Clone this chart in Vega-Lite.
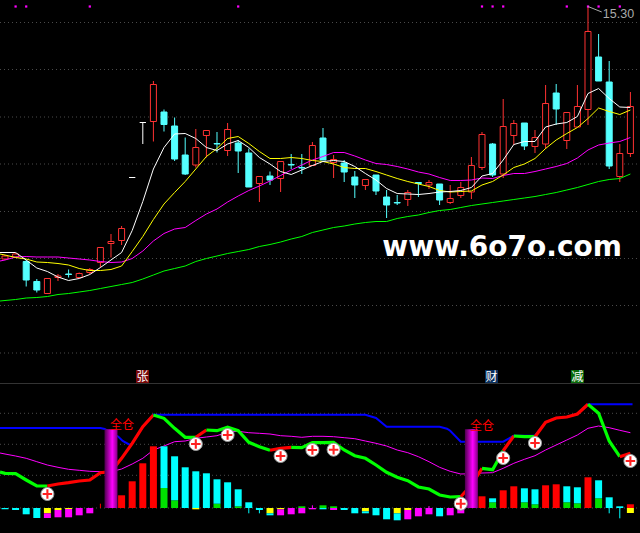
{
"$schema":"https://vega.github.io/schema/vega-lite/v6.json",
"background":"black","padding":0,"spacing":0,
"config":{"view":{"stroke":null},"concat":{"spacing":0}},
"datasets":{
"candles":[
{"i":0,"t":10.30,"b":10.24,"h":10.32,"l":10.22,"d":"up"},
{"i":1,"t":10.34,"b":10.28,"h":10.36,"l":10.26,"d":"up"},
{"i":2,"t":10.19,"b":9.82,"h":10.22,"l":9.69,"d":"down"},
{"i":3,"t":9.79,"b":9.62,"h":9.84,"l":9.57,"d":"down"},
{"i":4,"t":9.85,"b":9.55,"h":9.85,"l":9.55,"d":"up"},
{"i":5,"t":9.90,"b":9.87,"h":9.94,"l":9.80,"d":"up"},
{"i":6,"t":9.94,"b":9.93,"h":10.03,"l":9.87,"d":"down"},
{"i":7,"t":9.95,"b":9.87,"h":9.97,"l":9.86,"d":"up"},
{"i":8,"t":10.03,"b":9.97,"h":10.06,"l":9.94,"d":"up"},
{"i":9,"t":10.47,"b":10.17,"h":10.47,"l":10.07,"d":"up"},
{"i":10,"t":10.59,"b":10.55,"h":10.74,"l":10.27,"d":"up"},
{"i":11,"t":10.85,"b":10.61,"h":10.90,"l":10.52,"d":"up"},
{"i":12,"t":11.87,"b":11.87,"h":11.87,"l":11.87,"d":"flat"},
{"i":13,"t":12.97,"b":12.97,"h":12.97,"l":12.54,"d":"flat"},
{"i":14,"t":13.73,"b":12.99,"h":13.80,"l":12.59,"d":"up"},
{"i":15,"t":13.18,"b":12.93,"h":13.23,"l":12.79,"d":"down"},
{"i":16,"t":12.90,"b":12.24,"h":13.07,"l":12.20,"d":"down"},
{"i":17,"t":12.32,"b":11.94,"h":12.67,"l":11.92,"d":"down"},
{"i":18,"t":12.47,"b":12.12,"h":12.84,"l":12.07,"d":"up"},
{"i":19,"t":12.81,"b":12.71,"h":12.81,"l":12.27,"d":"up"},
{"i":20,"t":12.55,"b":12.54,"h":12.78,"l":12.37,"d":"down"},
{"i":21,"t":12.83,"b":12.41,"h":12.96,"l":12.30,"d":"up"},
{"i":22,"t":12.56,"b":12.40,"h":12.62,"l":11.96,"d":"down"},
{"i":23,"t":12.36,"b":11.68,"h":12.45,"l":11.68,"d":"down"},
{"i":24,"t":11.89,"b":11.75,"h":11.89,"l":11.38,"d":"up"},
{"i":25,"t":11.90,"b":11.82,"h":11.99,"l":11.72,"d":"down"},
{"i":26,"t":12.19,"b":11.85,"h":12.19,"l":11.58,"d":"up"},
{"i":27,"t":12.13,"b":12.12,"h":12.34,"l":12.04,"d":"down"},
{"i":28,"t":12.07,"b":12.06,"h":12.34,"l":11.94,"d":"down"},
{"i":29,"t":12.51,"b":12.11,"h":12.58,"l":12.10,"d":"up"},
{"i":30,"t":12.66,"b":12.22,"h":12.86,"l":12.22,"d":"down"},
{"i":31,"t":12.23,"b":12.17,"h":12.32,"l":11.86,"d":"up"},
{"i":32,"t":12.16,"b":11.98,"h":12.22,"l":11.78,"d":"down"},
{"i":33,"t":11.88,"b":11.72,"h":12.00,"l":11.46,"d":"down"},
{"i":34,"t":11.83,"b":11.71,"h":11.83,"l":11.62,"d":"up"},
{"i":35,"t":11.92,"b":11.60,"h":11.92,"l":11.52,"d":"down"},
{"i":36,"t":11.48,"b":11.32,"h":11.62,"l":11.06,"d":"down"},
{"i":37,"t":11.37,"b":11.36,"h":11.52,"l":11.32,"d":"down"},
{"i":38,"t":11.57,"b":11.43,"h":11.62,"l":11.30,"d":"up"},
{"i":39,"t":11.77,"b":11.75,"h":11.77,"l":11.48,"d":"down"},
{"i":40,"t":11.77,"b":11.72,"h":11.82,"l":11.64,"d":"up"},
{"i":41,"t":11.74,"b":11.42,"h":11.74,"l":11.32,"d":"down"},
{"i":42,"t":11.45,"b":11.37,"h":11.72,"l":11.34,"d":"up"},
{"i":43,"t":11.67,"b":11.51,"h":11.78,"l":11.46,"d":"up"},
{"i":44,"t":12.11,"b":11.58,"h":12.28,"l":11.44,"d":"up"},
{"i":45,"t":12.73,"b":12.07,"h":12.78,"l":12.02,"d":"up"},
{"i":46,"t":12.54,"b":11.92,"h":12.56,"l":11.88,"d":"down"},
{"i":47,"t":12.89,"b":11.94,"h":13.44,"l":11.86,"d":"up"},
{"i":48,"t":12.95,"b":12.71,"h":13.02,"l":12.52,"d":"up"},
{"i":49,"t":12.96,"b":12.50,"h":12.96,"l":12.42,"d":"down"},
{"i":50,"t":12.67,"b":12.49,"h":12.82,"l":12.36,"d":"up"},
{"i":51,"t":13.35,"b":12.54,"h":13.72,"l":12.44,"d":"up"},
{"i":52,"t":13.56,"b":13.24,"h":13.74,"l":12.92,"d":"down"},
{"i":53,"t":13.17,"b":12.61,"h":13.17,"l":12.44,"d":"up"},
{"i":54,"t":13.29,"b":12.88,"h":13.72,"l":12.88,"d":"up"},
{"i":55,"t":14.79,"b":13.23,"h":15.30,"l":12.92,"d":"up"},
{"i":56,"t":14.28,"b":13.80,"h":14.74,"l":13.80,"d":"down"},
{"i":57,"t":13.78,"b":12.10,"h":14.20,"l":12.04,"d":"down"},
{"i":58,"t":12.35,"b":11.89,"h":12.54,"l":11.78,"d":"up"},
{"i":59,"t":13.29,"b":12.35,"h":13.58,"l":12.28,"d":"up"}
],
"mas":[
{"i":-0.47,"w":10.37,"y":10.34,"m":10.20,"g":9.40},
{"i":0,"w":10.37,"y":10.32,"m":10.22,"g":9.41},
{"i":1,"w":10.37,"y":10.27,"m":10.28,"g":9.43},
{"i":2,"w":10.22,"y":10.24,"m":10.29,"g":9.46},
{"i":3,"w":10.06,"y":10.18,"m":10.28,"g":9.47},
{"i":4,"w":9.99,"y":10.17,"m":10.28,"g":9.49},
{"i":5,"w":9.88,"y":10.15,"m":10.28,"g":9.53},
{"i":6,"w":9.81,"y":10.12,"m":10.26,"g":9.55},
{"i":7,"w":9.85,"y":10.05,"m":10.24,"g":9.58},
{"i":8,"w":9.93,"y":10.01,"m":10.22,"g":9.61},
{"i":9,"w":10.07,"y":10.01,"m":10.19,"g":9.65},
{"i":10,"w":10.22,"y":10.03,"m":10.17,"g":9.69},
{"i":11,"w":10.37,"y":10.10,"m":10.18,"g":9.73},
{"i":12,"w":10.81,"y":10.39,"m":10.25,"g":9.77},
{"i":13,"w":11.39,"y":10.69,"m":10.40,"g":9.84},
{"i":14,"w":12.04,"y":11.03,"m":10.60,"g":9.92},
{"i":15,"w":12.47,"y":11.34,"m":10.75,"g":10.00},
{"i":16,"w":12.74,"y":11.57,"m":10.84,"g":10.05},
{"i":17,"w":12.75,"y":11.79,"m":10.87,"g":10.10},
{"i":18,"w":12.65,"y":12.04,"m":11.01,"g":10.19},
{"i":19,"w":12.47,"y":12.29,"m":11.14,"g":10.25},
{"i":20,"w":12.41,"y":12.45,"m":11.24,"g":10.30},
{"i":21,"w":12.54,"y":12.65,"m":11.38,"g":10.35},
{"i":22,"w":12.61,"y":12.69,"m":11.50,"g":10.39},
{"i":23,"w":12.47,"y":12.55,"m":11.61,"g":10.43},
{"i":24,"w":12.27,"y":12.39,"m":11.70,"g":10.49},
{"i":25,"w":12.14,"y":12.25,"m":11.80,"g":10.53},
{"i":26,"w":11.99,"y":12.25,"m":11.91,"g":10.58},
{"i":27,"w":11.93,"y":12.27,"m":12.02,"g":10.64},
{"i":28,"w":12.02,"y":12.25,"m":12.12,"g":10.69},
{"i":29,"w":12.11,"y":12.21,"m":12.22,"g":10.77},
{"i":30,"w":12.19,"y":12.19,"m":12.29,"g":10.82},
{"i":31,"w":12.21,"y":12.14,"m":12.37,"g":10.87},
{"i":32,"w":12.19,"y":12.07,"m":12.37,"g":10.90},
{"i":33,"w":12.09,"y":12.05,"m":12.30,"g":10.94},
{"i":34,"w":11.95,"y":12.05,"m":12.22,"g":10.97},
{"i":35,"w":11.82,"y":11.99,"m":12.15,"g":10.99},
{"i":36,"w":11.65,"y":11.92,"m":12.13,"g":10.99},
{"i":37,"w":11.55,"y":11.85,"m":12.09,"g":11.05},
{"i":38,"w":11.54,"y":11.79,"m":12.04,"g":11.09},
{"i":39,"w":11.53,"y":11.74,"m":11.98,"g":11.12},
{"i":40,"w":11.55,"y":11.69,"m":11.94,"g":11.17},
{"i":41,"w":11.58,"y":11.61,"m":11.87,"g":11.21},
{"i":42,"w":11.59,"y":11.58,"m":11.81,"g":11.23},
{"i":43,"w":11.61,"y":11.59,"m":11.81,"g":11.27},
{"i":44,"w":11.67,"y":11.60,"m":11.82,"g":11.31},
{"i":45,"w":11.90,"y":11.72,"m":11.86,"g":11.34},
{"i":46,"w":11.95,"y":11.79,"m":11.85,"g":11.37},
{"i":47,"w":12.22,"y":11.92,"m":11.91,"g":11.40},
{"i":48,"w":12.53,"y":12.07,"m":11.95,"g":11.43},
{"i":49,"w":12.59,"y":12.14,"m":11.95,"g":11.46},
{"i":50,"w":12.59,"y":12.25,"m":11.99,"g":11.49},
{"i":51,"w":12.88,"y":12.45,"m":12.04,"g":11.53},
{"i":52,"w":12.94,"y":12.62,"m":12.09,"g":11.57},
{"i":53,"w":12.97,"y":12.75,"m":12.15,"g":11.62},
{"i":54,"w":13.09,"y":12.87,"m":12.26,"g":11.67},
{"i":55,"w":13.55,"y":13.05,"m":12.42,"g":11.73},
{"i":56,"w":13.65,"y":13.26,"m":12.52,"g":11.79},
{"i":57,"w":13.45,"y":13.19,"m":12.56,"g":11.83},
{"i":58,"w":13.28,"y":13.13,"m":12.59,"g":11.85},
{"i":59,"w":13.27,"y":13.22,"m":12.67,"g":11.94}
],
"hist":[
{"i":0,"a":0,"b":-1.3,"k":"ebb"},{"i":1,"a":0,"b":-2,"k":"ebb"},{"i":2,"a":0,"b":-6.3,"k":"ebb"},{"i":3,"a":0,"b":-10,"k":"ebb"},
{"i":4,"a":0,"b":-5.3,"k":"warn"},{"i":4,"a":-5.3,"b":-10,"k":"down"},
{"i":5,"a":0,"b":-2,"k":"warn"},{"i":5,"a":-2,"b":-9.3,"k":"down"},
{"i":6,"a":0,"b":-1,"k":"warn"},{"i":6,"a":-1,"b":-9.3,"k":"down"},
{"i":7,"a":0,"b":-7.3,"k":"down"},{"i":8,"a":0,"b":-5.3,"k":"down"},
{"i":11,"a":0,"b":12.7,"k":"up"},{"i":12,"a":0,"b":26.7,"k":"up"},{"i":13,"a":0,"b":44.7,"k":"up"},{"i":14,"a":0,"b":61.7,"k":"up"},
{"i":15,"a":0,"b":20,"k":"core"},{"i":15,"a":20,"b":61.7,"k":"ebb"},
{"i":16,"a":0,"b":7.7,"k":"core"},{"i":16,"a":7.7,"b":51.7,"k":"ebb"},
{"i":17,"a":0,"b":40.7,"k":"ebb"},
{"i":18,"a":0,"b":36.7,"k":"ebb"},{"i":18,"a":0,"b":-1.3,"k":"warn"},
{"i":19,"a":0,"b":34.7,"k":"ebb"},
{"i":20,"a":0,"b":4.3,"k":"core"},{"i":20,"a":4.3,"b":28.7,"k":"ebb"},
{"i":21,"a":0,"b":25.7,"k":"ebb"},
{"i":22,"a":0,"b":1.7,"k":"core"},{"i":22,"a":1.7,"b":18.7,"k":"ebb"},
{"i":23,"a":0,"b":5.7,"k":"ebb"},{"i":24,"a":0,"b":-2,"k":"ebb"},
{"i":25,"a":0,"b":-5.3,"k":"warn"},{"i":25,"a":-5.3,"b":-7.3,"k":"ebb"},
{"i":26,"a":0,"b":-1.3,"k":"warn"},{"i":26,"a":-1.3,"b":-7.3,"k":"down"},
{"i":27,"a":0,"b":-6.3,"k":"down"},
{"i":28,"a":0,"b":1.7,"k":"core"},{"i":28,"a":0,"b":-5.3,"k":"down"},
{"i":29,"a":0,"b":-1.3,"k":"down"},
{"i":30,"a":0,"b":2.7,"k":"core"},{"i":30,"a":0,"b":-1.3,"k":"ebb"},
{"i":31,"a":0,"b":1.7,"k":"core"},{"i":31,"a":0,"b":-2,"k":"down"},
{"i":32,"a":0,"b":-2,"k":"ebb"},{"i":33,"a":0,"b":-5.3,"k":"ebb"},
{"i":34,"a":0,"b":-3.3,"k":"warn"},{"i":34,"a":-3.3,"b":-5.3,"k":"ebb"},
{"i":35,"a":0,"b":-7.3,"k":"ebb"},{"i":36,"a":0,"b":-11.3,"k":"ebb"},
{"i":37,"a":0,"b":-5.3,"k":"warn"},{"i":37,"a":-5.3,"b":-12.3,"k":"ebb"},
{"i":38,"a":0,"b":-2,"k":"warn"},{"i":38,"a":-2,"b":-11.3,"k":"down"},
{"i":39,"a":0,"b":-8.3,"k":"down"},{"i":40,"a":0,"b":-6.3,"k":"down"},{"i":41,"a":0,"b":-8.3,"k":"ebb"},{"i":42,"a":0,"b":-7.3,"k":"down"},{"i":43,"a":0,"b":-5.3,"k":"down"},
{"i":45,"a":0,"b":11.7,"k":"up"},
{"i":46,"a":0,"b":5.7,"k":"core"},{"i":46,"a":5.7,"b":9.7,"k":"ebb"},
{"i":47,"a":0,"b":17.7,"k":"up"},{"i":48,"a":0,"b":21.7,"k":"up"},
{"i":49,"a":0,"b":5.7,"k":"core"},{"i":49,"a":5.7,"b":19.7,"k":"ebb"},
{"i":50,"a":0,"b":3.7,"k":"core"},{"i":50,"a":3.7,"b":18.7,"k":"ebb"},
{"i":51,"a":0,"b":22.7,"k":"up"},{"i":52,"a":0,"b":23.7,"k":"up"},
{"i":53,"a":0,"b":5.7,"k":"core"},{"i":53,"a":5.7,"b":21.7,"k":"ebb"},
{"i":54,"a":0,"b":4.7,"k":"core"},{"i":54,"a":4.7,"b":20.7,"k":"ebb"},
{"i":55,"a":0,"b":30.7,"k":"up"},
{"i":56,"a":0,"b":9.7,"k":"core"},{"i":56,"a":9.7,"b":27.7,"k":"ebb"},
{"i":57,"a":0,"b":10.7,"k":"ebb"},{"i":58,"a":0,"b":1.7,"k":"ebb"},
{"i":59,"a":0,"b":3.7,"k":"up"},{"i":59,"a":0,"b":-5,"k":"warn"}
],
"spikes":[
{"i":9,"a":0,"b":4.3,"k":"up"},{"i":23,"a":0,"b":-5.3,"k":"ebb"},{"i":24,"a":-2,"b":-5.3,"k":"ebb"},{"i":29,"a":0,"b":2.7,"k":"down"},{"i":40,"a":0,"b":2,"k":"down"},{"i":57,"a":0,"b":-5.3,"k":"ebb"},{"i":58,"a":0,"b":-10.3,"k":"ebb"}
],
"blue":[
{"i":-0.47,"v":80},{"i":9,"v":80},{"i":9.4,"v":79},{"i":10.7,"v":71.3},{"i":11.1,"v":67},{"i":11.8,"v":63},{"i":12,"v":64.7},{"i":13,"v":81.3},{"i":14,"v":93.3},{"i":34,"v":93.3},{"i":35,"v":90},{"i":36,"v":81.3},{"i":41,"v":81.3},{"i":41.7,"v":79.3},{"i":42,"v":77.3},{"i":43,"v":66.3},{"i":47,"v":66.3},{"i":48,"v":72.3},{"i":50,"v":72.3},{"i":51,"v":85.7},{"i":52,"v":90},{"i":53,"v":91},{"i":54,"v":94},{"i":55,"v":103.7},{"i":59.2,"v":103.7}
],
"thin":[
{"i":-0.47,"v":55},{"i":0,"v":54},{"i":1,"v":52},{"i":2,"v":49.7},{"i":3,"v":46.3},{"i":4,"v":43},{"i":5,"v":40.7},{"i":6,"v":38.7},{"i":7,"v":37.7},{"i":8,"v":36.7},{"i":9,"v":36.3},{"i":10,"v":36.3},{"i":11,"v":39},{"i":12,"v":44},{"i":13,"v":49.7},{"i":14,"v":58},{"i":15,"v":62},{"i":16,"v":66.3},{"i":17,"v":67},{"i":18,"v":69.7},{"i":19,"v":71},{"i":20,"v":72.3},{"i":21,"v":76},{"i":22,"v":76.7},{"i":23,"v":75.3},{"i":24,"v":74.7},{"i":25,"v":74},{"i":26,"v":72.3},{"i":27,"v":71.7},{"i":28,"v":70.7},{"i":29,"v":71.7},{"i":30,"v":71.7},{"i":31,"v":71.3},{"i":32,"v":70.3},{"i":33,"v":69.3},{"i":34,"v":67},{"i":35,"v":64.7},{"i":36,"v":62},{"i":37,"v":58},{"i":38,"v":55.3},{"i":39,"v":51.3},{"i":40,"v":46.3},{"i":41,"v":40.7},{"i":42,"v":36.7},{"i":43,"v":34},{"i":44,"v":34.3},{"i":45,"v":35},{"i":46,"v":35.3},{"i":47,"v":39.7},{"i":48,"v":44.7},{"i":49,"v":48.7},{"i":50,"v":52.3},{"i":51,"v":58},{"i":52,"v":63},{"i":53,"v":68},{"i":54,"v":73},{"i":55,"v":79.7},{"i":56,"v":82},{"i":57,"v":80.3},{"i":58,"v":77.7},{"i":59,"v":75.3}
],
"thick":[
{"s":"g1","c":"fall","i":-0.47,"v":36},{"s":"g1","c":"fall","i":0,"v":34.7},{"s":"g1","c":"fall","i":1,"v":34.3},{"s":"g1","c":"fall","i":2,"v":28},{"s":"g1","c":"fall","i":3,"v":22},{"s":"g1","c":"fall","i":4,"v":22},
{"s":"r1","c":"rise","i":4,"v":22},{"s":"r1","c":"rise","i":5,"v":24},{"s":"r1","c":"rise","i":6,"v":25.3},{"s":"r1","c":"rise","i":7,"v":27},{"s":"r1","c":"rise","i":8,"v":28},{"s":"r1","c":"rise","i":9,"v":35.3},{"s":"r1","c":"rise","i":10,"v":36.3},{"s":"r1","c":"rise","i":11,"v":49.7},{"s":"r1","c":"rise","i":12,"v":64.7},{"s":"r1","c":"rise","i":13,"v":81.3},{"s":"r1","c":"rise","i":14,"v":93},
{"s":"g2","c":"fall","i":14,"v":93},{"s":"g2","c":"fall","i":15,"v":89.7},{"s":"g2","c":"fall","i":16,"v":79.7},{"s":"g2","c":"fall","i":17,"v":70.7},{"s":"g2","c":"fall","i":18,"v":70.7},
{"s":"r2","c":"rise","i":18,"v":70.7},{"s":"r2","c":"rise","i":19,"v":78},
{"s":"g3","c":"fall","i":19,"v":78},{"s":"g3","c":"fall","i":20,"v":77.3},{"s":"g3","c":"fall","i":21,"v":80.7},{"s":"g3","c":"fall","i":22,"v":77.3},{"s":"g3","c":"fall","i":23,"v":65.7},{"s":"g3","c":"fall","i":24,"v":61.3},{"s":"g3","c":"fall","i":25,"v":57.7},
{"s":"r3","c":"rise","i":25,"v":57.7},{"s":"r3","c":"rise","i":26,"v":59.7},{"s":"r3","c":"rise","i":27,"v":60.7},
{"s":"g4","c":"fall","i":27,"v":60.7},{"s":"g4","c":"fall","i":28,"v":60.3},{"s":"g4","c":"fall","i":29,"v":65.3},{"s":"g4","c":"fall","i":30,"v":65.3},{"s":"g4","c":"fall","i":31,"v":65.7},{"s":"g4","c":"fall","i":32,"v":58},{"s":"g4","c":"fall","i":33,"v":52.3},{"s":"g4","c":"fall","i":34,"v":49.7},{"s":"g4","c":"fall","i":35,"v":43},{"s":"g4","c":"fall","i":36,"v":35.7},{"s":"g4","c":"fall","i":37,"v":30.7},{"s":"g4","c":"fall","i":38,"v":27.3},{"s":"g4","c":"fall","i":39,"v":21},{"s":"g4","c":"fall","i":40,"v":19},{"s":"g4","c":"fall","i":41,"v":13},{"s":"g4","c":"fall","i":42,"v":11},{"s":"g4","c":"fall","i":43,"v":11.3},
{"s":"r4","c":"rise","i":43,"v":11.3},{"s":"r4","c":"rise","i":44,"v":23},{"s":"r4","c":"rise","i":45,"v":39.7},
{"s":"g5","c":"fall","i":45,"v":39.7},{"s":"g5","c":"fall","i":46,"v":38.3},{"s":"g5","c":"fall","i":47,"v":57.3},
{"s":"r5","c":"rise","i":47,"v":57.3},{"s":"r5","c":"rise","i":48,"v":72},
{"s":"g6","c":"fall","i":48,"v":72},{"s":"g6","c":"fall","i":49,"v":71.3},{"s":"g6","c":"fall","i":50,"v":71.3},
{"s":"r6","c":"rise","i":50,"v":71.3},{"s":"r6","c":"rise","i":51,"v":85.7},{"s":"r6","c":"rise","i":52,"v":90},{"s":"r6","c":"rise","i":53,"v":91},{"s":"r6","c":"rise","i":54,"v":94},{"s":"r6","c":"rise","i":55,"v":103.7},
{"s":"g7","c":"fall","i":55,"v":103.7},{"s":"g7","c":"fall","i":56,"v":94.7},{"s":"g7","c":"fall","i":57,"v":67},{"s":"g7","c":"fall","i":58,"v":51.3},
{"s":"r7","c":"rise","i":58,"v":51.3},{"s":"r7","c":"rise","i":59,"v":54.7}
],
"adds":[{"i":4,"v":14},{"i":18,"v":64},{"i":21,"v":73},{"i":26,"v":52},{"i":29,"v":58},{"i":31,"v":58.3},{"i":43,"v":4.3},{"i":47,"v":50},{"i":50,"v":65},{"i":59,"v":47}]
},
"vconcat":[
{"width":640,"height":384,
"resolve":{"scale":{"fill":"independent","stroke":"independent","color":"independent"}},
"encoding":{"x":{"field":"i","type":"quantitative","axis":null,"scale":{"domain":[-0.4717,59.906],"nice":false,"zero":false,"padding":0}}},
"layer":[
{"data":{"values":[{"p":14.97},{"p":14.03},{"p":13.08},{"p":12.14},{"p":11.19},{"p":10.25},{"p":9.31},{"p":8.36}]},
 "mark":{"type":"rule","color":"#4a4a4a","strokeDash":[1,3],"clip":true},
 "encoding":{"x":{"value":0},"x2":{"value":640},"y":{"field":"p","type":"quantitative","axis":null,"scale":{"domain":[7.74,15.42],"nice":false,"zero":false}}}},
{"data":{"values":[{"p":7.75}]},"mark":{"type":"rule","color":"#333333","strokeWidth":1,"clip":true},
 "encoding":{"x":{"value":0},"x2":{"value":640},"y":{"field":"p","type":"quantitative","axis":null,"scale":{"domain":[7.74,15.42],"nice":false,"zero":false}}}},
{"data":{"name":"candles"},"mark":{"type":"rule","strokeWidth":1,"clip":true},
 "encoding":{"y":{"field":"h","type":"quantitative","axis":null,"scale":{"domain":[7.74,15.42],"nice":false,"zero":false}},"y2":{"field":"l"},
  "color":{"field":"d","type":"nominal","legend":null,"scale":{"domain":["up","down","flat"],"range":["#ff3232","#54ffff","#ffffff"]}}}},
{"data":{"name":"candles"},"mark":{"type":"bar","orient":"vertical","size":6,"strokeWidth":1,"clip":true},
 "encoding":{"y":{"field":"t","type":"quantitative","axis":null,"scale":{"domain":[7.74,15.42],"nice":false,"zero":false}},"y2":{"field":"b"},
  "fill":{"field":"d","type":"nominal","legend":null,"scale":{"domain":["up","down","flat"],"range":["#000000","#54ffff","#ffffff"]}},
  "stroke":{"field":"d","type":"nominal","legend":null,"scale":{"domain":["up","down","flat"],"range":["#ff3232","#54ffff","#ffffff"]}}}},
{"data":{"name":"mas"},"mark":{"type":"line","color":"#00ff00","strokeWidth":1,"clip":true},
 "encoding":{"y":{"field":"g","type":"quantitative","axis":null,"scale":{"domain":[7.74,15.42],"nice":false,"zero":false}}}},
{"data":{"name":"mas"},"mark":{"type":"line","color":"#ff00ff","strokeWidth":1,"clip":true},
 "encoding":{"y":{"field":"m","type":"quantitative","axis":null,"scale":{"domain":[7.74,15.42],"nice":false,"zero":false}}}},
{"data":{"name":"mas"},"mark":{"type":"line","color":"#ffff00","strokeWidth":1,"clip":true},
 "encoding":{"y":{"field":"y","type":"quantitative","axis":null,"scale":{"domain":[7.74,15.42],"nice":false,"zero":false}}}},
{"data":{"name":"mas"},"mark":{"type":"line","color":"#ffffff","strokeWidth":1,"clip":true},
 "encoding":{"y":{"field":"w","type":"quantitative","axis":null,"scale":{"domain":[7.74,15.42],"nice":false,"zero":false}}}},
{"data":{"values":[{"i":1},{"i":2},{"i":8},{"i":22},{"i":45},{"i":46},{"i":47},{"i":53},{"i":55},{"i":56},{"i":58}]},
 "mark":{"type":"square","color":"#ff00ff","size":5,"opacity":1},
 "encoding":{"y":{"datum":15.29,"type":"quantitative","axis":null,"scale":{"domain":[7.74,15.42],"nice":false,"zero":false}}}},
{"data":{"values":[{"i":55,"p":15.29},{"i":56.3,"p":15.18}]},"mark":{"type":"line","color":"#aaaaaa","strokeWidth":1,"clip":true},
 "encoding":{"y":{"field":"p","type":"quantitative","axis":null,"scale":{"domain":[7.74,15.42],"nice":false,"zero":false}}}},
{"data":{"values":[{"i":56.4,"p":15.15,"t":"15.30"}]},"mark":{"type":"text","color":"#aaaaaa","font":"Liberation Sans","fontSize":12.5,"align":"left","baseline":"middle"},
 "encoding":{"text":{"field":"t"},"y":{"field":"p","type":"quantitative","axis":null,"scale":{"domain":[7.74,15.42],"nice":false,"zero":false}}}},
{"data":{"values":[{"i":46.9,"p":10.31,"t":"www.6o7o.com"}]},"mark":{"type":"text","color":"#ffffff","font":"DejaVu Sans","fontWeight":"bold","fontSize":28,"align":"center","baseline":"alphabetic"},
 "encoding":{"text":{"field":"t"},"y":{"field":"p","type":"quantitative","axis":null,"scale":{"domain":[7.74,15.42],"nice":false,"zero":false}}}},
{"data":{"values":[{"i":12.97,"p":7.89,"k":"a"},{"i":45.9,"p":7.89,"k":"b"},{"i":54,"p":7.89,"k":"c"}]},"mark":{"type":"square","size":169,"opacity":1},
 "encoding":{"y":{"field":"p","type":"quantitative","axis":null,"scale":{"domain":[7.74,15.42],"nice":false,"zero":false}},
  "color":{"field":"k","type":"nominal","legend":null,"scale":{"domain":["a","b","c"],"range":["#780808","#0a2f5c","#0a6a0a"]}}}},
{"data":{"values":[{"i":12.97,"p":7.89,"t":"张"},{"i":45.9,"p":7.89,"t":"财"},{"i":54,"p":7.89,"t":"减"}]},"mark":{"type":"text","color":"#ffffff","font":"Noto Sans CJK SC","fontSize":12,"align":"center","baseline":"middle"},
 "encoding":{"text":{"field":"t"},"y":{"field":"p","type":"quantitative","axis":null,"scale":{"domain":[7.74,15.42],"nice":false,"zero":false}}}}
]},
{"width":640,"height":149,
"resolve":{"scale":{"color":"independent"}},
"encoding":{"x":{"field":"i","type":"quantitative","axis":null,"scale":{"domain":[-0.4717,59.906],"nice":false,"zero":false,"padding":0}}},
"layer":[
{"data":{"values":[{"v":94.7},{"v":63.7},{"v":32.7},{"v":0}]},
 "mark":{"type":"rule","color":"#4a4a4a","strokeDash":[1,3],"clip":true},
 "encoding":{"x":{"value":0},"x2":{"value":640},"y":{"field":"v","type":"quantitative","axis":null,"scale":{"domain":[-25,124],"nice":false,"zero":false}}}},
{"data":{"name":"blue"},"mark":{"type":"line","color":"#0000ff","strokeWidth":2,"clip":true},
 "encoding":{"y":{"field":"v","type":"quantitative","axis":null,"scale":{"domain":[-25,124],"nice":false,"zero":false}}}},
{"data":{"name":"thin"},"mark":{"type":"line","color":"#ff00ff","strokeWidth":1,"clip":true},
 "encoding":{"y":{"field":"v","type":"quantitative","axis":null,"scale":{"domain":[-25,124],"nice":false,"zero":false}}}},
{"data":{"name":"thick"},"mark":{"type":"line","strokeWidth":3.2,"clip":true},
 "encoding":{"y":{"field":"v","type":"quantitative","axis":null,"scale":{"domain":[-25,124],"nice":false,"zero":false}},
  "detail":{"field":"s"},
  "color":{"field":"c","type":"nominal","legend":null,"scale":{"domain":["rise","fall"],"range":["#ff0000","#00ff00"]}}}},
{"data":{"name":"spikes"},"mark":{"type":"rule","strokeWidth":1,"clip":true},
 "encoding":{"y":{"field":"a","type":"quantitative","axis":null,"scale":{"domain":[-25,124],"nice":false,"zero":false}},"y2":{"field":"b"},
  "color":{"field":"k","type":"nominal","legend":null,"scale":{"domain":["up","ebb","core","warn","down"],"range":["#ff0000","#00ffff","#00e000","#ffff00","#ff00ff"]}}}},
{"data":{"name":"hist"},"mark":{"type":"bar","orient":"vertical","size":7,"clip":true},
 "encoding":{"y":{"field":"a","type":"quantitative","axis":null,"scale":{"domain":[-25,124],"nice":false,"zero":false}},"y2":{"field":"b"},
  "color":{"field":"k","type":"nominal","legend":null,"scale":{"domain":["up","ebb","core","warn","down"],"range":["#ff0000","#00ffff","#00e000","#ffff00","#ff00ff"]}}}},
{"data":{"values":[{"i":10,"a":0,"b":78.7},{"i":44,"a":0,"b":78.7}]},
 "mark":{"type":"bar","orient":"vertical","size":13,"color":{"gradient":"linear","x1":0,"x2":1,"y1":0,"y2":0,"stops":[{"offset":0,"color":"#4d004d"},{"offset":0.6,"color":"#ff00ff"},{"offset":1,"color":"#800080"}]}},
 "encoding":{"y":{"field":"a","type":"quantitative","axis":null,"scale":{"domain":[-25,124],"nice":false,"zero":false}},"y2":{"field":"b"}}},
{"data":{"values":[{"i":11.03,"v":83,"t":"全仓"},{"i":45,"v":82.5,"t":"全仓"}]},
 "mark":{"type":"text","color":"#ff0000","font":"Noto Sans CJK SC","fontSize":12,"align":"center","baseline":"middle"},
 "encoding":{"text":{"field":"t"},"y":{"field":"v","type":"quantitative","axis":null,"scale":{"domain":[-25,124],"nice":false,"zero":false}}}},
{"data":{"name":"adds"},"mark":{"type":"point","shape":"circle","filled":true,"fill":"#ffffff","stroke":"#999999","strokeWidth":1,"size":170,"opacity":1},
 "encoding":{"y":{"field":"v","type":"quantitative","axis":null,"scale":{"domain":[-25,124],"nice":false,"zero":false}}}},
{"data":{"name":"adds"},"mark":{"type":"point","shape":"M -0.22 -1 H 0.22 V -0.22 H 1 V 0.22 H 0.22 V 1 H -0.22 V 0.22 H -1 V -0.22 H -0.22 Z","filled":true,"fill":"#ff2020","strokeWidth":0,"size":90,"opacity":1},
 "encoding":{"y":{"field":"v","type":"quantitative","axis":null,"scale":{"domain":[-25,124],"nice":false,"zero":false}}}}
]}
]
}
